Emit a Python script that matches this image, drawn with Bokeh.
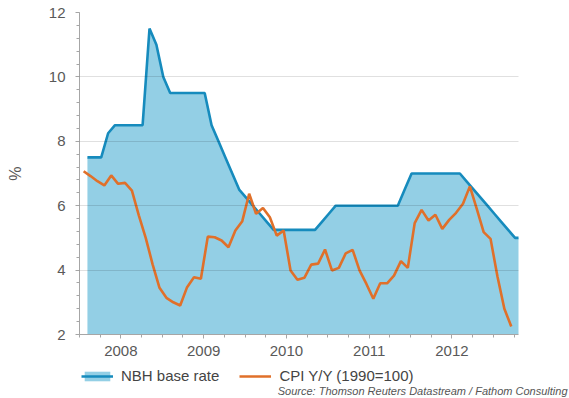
from bokeh.plotting import figure
from bokeh.layouts import column, row
from bokeh.models import Range1d, FixedTicker, Legend, LegendItem, Label
from bokeh.embed import file_html
from bokeh.resources import INLINE

# ---- data (months since Jan 2008) ----
nbh_rate = [7.5, 7.5, 7.5, 8.25, 8.5, 8.5, 8.5, 8.5, 8.5, 11.5, 11.0, 10.0,
            9.5, 9.5, 9.5, 9.5, 9.5, 9.5, 8.5, 8.0, 7.5, 7.0, 6.5, 6.25,
            6.0, 5.75, 5.5, 5.25, 5.25, 5.25, 5.25, 5.25, 5.25, 5.25, 5.5, 5.75,
            6.0, 6.0, 6.0, 6.0, 6.0, 6.0, 6.0, 6.0, 6.0, 6.0, 6.5, 7.0,
            7.0, 7.0, 7.0, 7.0, 7.0, 7.0, 7.0, 6.75, 6.5, 6.25, 6.0, 5.75,
            5.5, 5.25, 5.0, 5.0]
cpi_yy = [7.07, 6.92, 6.76, 6.63, 6.94, 6.68, 6.71, 6.47, 5.70, 5.00, 4.18, 3.45,
          3.14, 3.00, 2.90, 3.47, 3.78, 3.73, 5.04, 5.02, 4.92, 4.71, 5.23, 5.52,
          6.37, 5.75, 5.93, 5.64, 5.07, 5.23, 3.99, 3.70, 3.76, 4.17, 4.20, 4.64,
          3.99, 4.07, 4.52, 4.63, 3.99, 3.57, 3.11, 3.59, 3.59, 3.83, 4.28, 4.07,
          5.46, 5.87, 5.54, 5.72, 5.28, 5.56, 5.78, 6.06, 6.60, 5.90, 5.18, 4.97,
          3.80, 2.80, 2.25]
year_labels = ["2008", "2009", "2010", "2011", "2012"]
y_ticks = [2, 4, 6, 8, 10, 12]
series_names = ["NBH base rate", "CPI Y/Y (1990=100)"]
source_text = "Source: Thomson Reuters Datastream / Fathom Consulting"

nbh_offset = 0.55       # NBH points sit slightly right of CPI points
label_month = 5.4       # month position of year labels
nbh_x = [i + nbh_offset for i in range(len(nbh_rate))]
cpi_x = list(range(len(cpi_yy)))

FONT = "Liberation Sans"
GREY = "#595959"
AREA = "#93cfe5"
BLUE = "#168bbd"
ORANGE = "#e0702a"

p = figure(width=569, height=362, output_backend="svg", toolbar_location=None,
           x_range=Range1d(-0.6, 63.05), y_range=Range1d(2, 12),
           min_border_left=79, min_border_right=51, min_border_top=12,
           min_border_bottom=28, title=None)
p.outline_line_color = None
p.background_fill_color = "white"

p.varea(x=nbh_x, y1=[2] * len(nbh_rate), y2=nbh_rate,
        fill_color=AREA, fill_alpha=1.0)
p.line(x=nbh_x, y=nbh_rate, line_color=BLUE, line_width=2.6)
p.line(x=cpi_x, y=cpi_yy, line_color=ORANGE, line_width=2.6)

# axes
major_x = [label_month + 12 * i for i in range(len(year_labels))]
minor_x = [label_month - 6 + 3 * i for i in range(22)]
p.xaxis.ticker = FixedTicker(ticks=major_x, minor_ticks=minor_x)
p.xaxis.major_label_overrides = {m: lab for m, lab in zip(major_x, year_labels)}
p.yaxis.ticker = FixedTicker(ticks=y_ticks,
                             minor_ticks=[2 + 0.4 * i for i in range(26)])
for ax in (p.xaxis[0], p.yaxis[0]):
    ax.axis_line_color = "#a6a6a6"
    ax.major_tick_line_color = "#a6a6a6"
    ax.minor_tick_line_color = "#a6a6a6"
    ax.major_tick_in = 0
    ax.minor_tick_in = 0
    ax.major_tick_out = 4
    ax.minor_tick_out = 3
    ax.major_label_text_font = FONT
    ax.major_label_text_font_size = "15px"
    ax.major_label_text_color = GREY
p.xaxis.major_label_standoff = 7
p.yaxis.major_label_standoff = 10
p.yaxis.axis_label = "%"
p.yaxis.axis_label_text_font = FONT
p.yaxis.axis_label_text_font_size = "16px"
p.yaxis.axis_label_text_font_style = "normal"
p.yaxis.axis_label_text_color = GREY
p.yaxis.axis_label_standoff = 22

p.xgrid.grid_line_color = None
p.ygrid.grid_line_color = "black"
p.ygrid.grid_line_alpha = 0.12
p.ygrid.level = "overlay"

# ---- legend + source strip below ----
p2 = figure(width=569, height=36, output_backend="svg", toolbar_location=None,
            x_range=Range1d(0, 1), y_range=Range1d(0, 1),
            x_axis_type=None, y_axis_type=None, min_border=0, title=None)
p2.outline_line_color = None
p2.grid.visible = False
# legend-only renderers, kept outside the visible range
ra = p2.varea(x=[-5, -4], y1=[-5, -5], y2=[-4, -4], fill_color=AREA, fill_alpha=1.0)
rl = p2.line(x=[-5, -4], y=[-5, -5], line_color=BLUE, line_width=2.6)
rc = p2.line(x=[-5, -4], y=[-5, -5], line_color=ORANGE, line_width=2.6)

legend = Legend(items=[LegendItem(label=series_names[0], renderers=[ra, rl]),
                       LegendItem(label=series_names[1], renderers=[rc])],
                orientation="horizontal", location=(81, 14),
                label_text_font=FONT, label_text_font_size="15px",
                label_text_color="#444444", glyph_width=32, glyph_height=12,
                label_standoff=8, spacing=20, padding=4, margin=0,
                border_line_color=None, background_fill_alpha=0)
p2.add_layout(legend)

src = Label(x=567, y=8, x_units="screen", y_units="screen",
            text=source_text, text_align="right", text_baseline="middle",
            text_font=FONT, text_font_size="11px", text_font_style="italic",
            text_color="#555555")
p2.add_layout(src)

open("out.html", "w").write(file_html(column(p, row(p2), spacing=0), INLINE))
